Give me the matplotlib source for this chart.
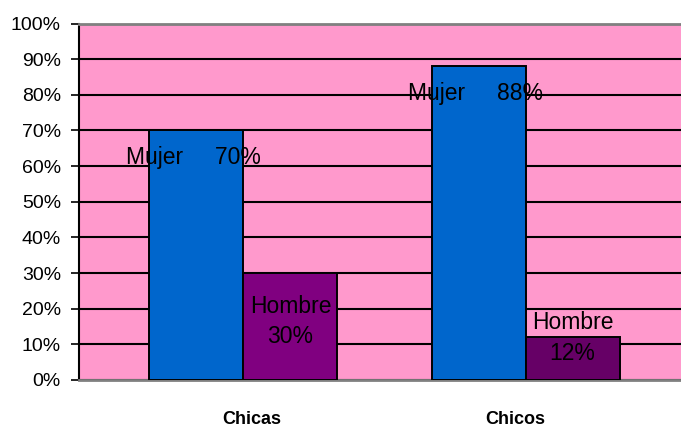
import matplotlib
matplotlib.use("Agg")
import matplotlib.pyplot as plt
import matplotlib.transforms as mtransforms
from matplotlib.ticker import PercentFormatter

# data
groups = ["Chicas", "Chicos"]
series = ["Mujer", "Hombre"]
mujer = [0.70, 0.88]
hombre = [0.30, 0.12]
yticks = [i / 10 for i in range(11)]

PINK = "#FF99CC"
BLUE = "#0066CC"
HOMBRE_COLORS = ["#800080", "#660066"]

plt.rcParams["font.family"] = ["Liberation Sans", "DejaVu Sans"]

fig = plt.figure(figsize=(6.81, 4.30), dpi=100)
ax = fig.add_axes([79 / 681, 50 / 430, 1 - 79 / 681, 356.5 / 430])
ax.set_facecolor(PINK)

width = 1 / 3
x = list(range(len(groups)))
xm = [i - width / 2 for i in x]
xh = [i + width / 2 for i in x]

ax.bar(xm, mujer, width=width, color=BLUE, edgecolor="black", linewidth=1.4, zorder=3)
ax.bar(xh, hombre, width=width, color=HOMBRE_COLORS, edgecolor="black", linewidth=1.4, zorder=3)

ax.set_ylim(0, 1)
ax.set_xlim(-0.583, 1.551)
ax.set_yticks(yticks)
ax.yaxis.set_major_formatter(PercentFormatter(1.0, decimals=0))
ax.yaxis.grid(True, color="black", linewidth=1.5, zorder=1)
ax.set_axisbelow(True)

ax.set_xticks(x)
ax.set_xticklabels(groups, fontsize=13, fontweight="bold")
ax.tick_params(axis="x", length=0, pad=22)
ax.tick_params(axis="y", length=6, width=1.2, labelsize=14, pad=7, direction="out")

# the category labels sit slightly off the group centres in the reference
for lbl, dx in zip(ax.get_xticklabels(), [8, -10]):
    lbl.set_transform(lbl.get_transform() +
                      mtransforms.ScaledTranslation(dx / 100, 0, fig.dpi_scale_trans))

for s in ["top", "bottom"]:
    ax.spines[s].set_color("#808080")
    ax.spines[s].set_linewidth(2)
ax.spines["left"].set_color("black")
ax.spines["left"].set_linewidth(1.5)
ax.spines["right"].set_visible(False)

# data labels
for xi, v in zip(xm, mujer):
    ax.annotate(f"{series[0]}     {v:.0%}", xy=(xi, v), xytext=(-3, -27),
                textcoords="offset pixels", ha="center", va="center",
                fontsize=16.5, zorder=5)
for xi, v in zip(xh, hombre):
    yc = max(v / 2 + 0.015, 0.118)
    ax.text(xi, yc, f"{series[1]}\n{v:.0%}", ha="center", va="center",
            fontsize=16.5, linespacing=1.4, zorder=5)

fig.savefig("out.png", dpi=100)
